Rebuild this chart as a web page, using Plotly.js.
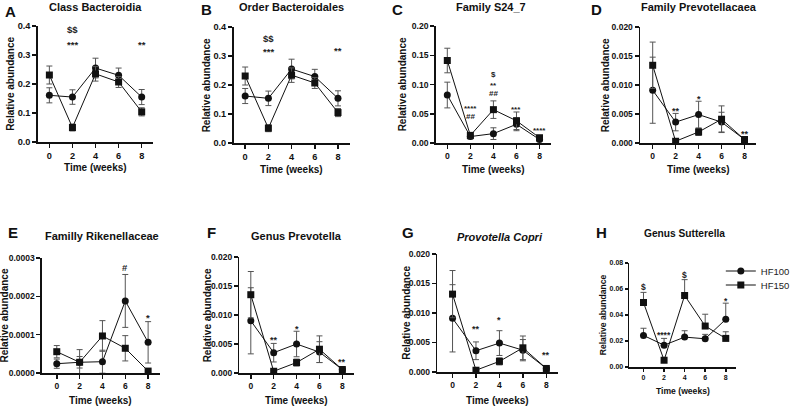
<!DOCTYPE html>
<html>
<head>
<meta charset="utf-8">
<script src="https://cdn.plot.ly/plotly-3.0.1.min.js"></script>
<style>html,body{margin:0;padding:0;background:#fff;}#chart{width:795px;height:406px;}</style>
</head>
<body>
<div id="chart"></div>
<script>
// ---------- DATA ----------
const weeks = [0, 2, 4, 6, 8];
const seriesNames = ['HF100', 'HF150'];

// A Class Bacteroidia
const aHF100 = [0.161, 0.155, 0.255, 0.230, 0.155];
const aHF100Err = [0.026, 0.025, 0.034, 0.025, 0.026];
const aHF150 = [0.231, 0.050, 0.235, 0.207, 0.104];
const aHF150Err = [0.031, 0.012, 0.025, 0.019, 0.014];
const aMarkX = [2, 2, 8];
const aMarkY = [0.389, 0.344, 0.344];
const aMarkText = ['$$', '***', '**'];

// B Order Bacteroidales
const bHF100 = [0.162, 0.154, 0.255, 0.229, 0.154];
const bHF100Err = [0.026, 0.025, 0.034, 0.025, 0.026];
const bHF150 = [0.231, 0.051, 0.234, 0.207, 0.105];
const bHF150Err = [0.031, 0.012, 0.025, 0.019, 0.014];
const bMarkX = [2, 2, 8];
const bMarkY = [0.360, 0.322, 0.326];
const bMarkText = ['$$', '***', '**'];

// C Family S24_7
const cHF100 = [0.082, 0.011, 0.016, 0.032, 0.006];
const cHF100Err = [0.022, 0.004, 0.010, 0.011, 0.003];
const cHF150 = [0.141, 0.013, 0.057, 0.038, 0.009];
const cHF150Err = [0.021, 0.005, 0.015, 0.015, 0.003];
const cMarkX = [2, 2, 4, 4, 4, 6, 8];
const cMarkY = [0.062, 0.045, 0.117, 0.101, 0.084, 0.060, 0.024];
const cMarkText = ['****', '##', '$', '**', '##', '***', '****'];

// D Family Prevotellacaea
const dHF100 = [0.0091, 0.0036, 0.0049, 0.0036, 0.0006];
const dHF100Err = [0.0057, 0.0015, 0.0023, 0.0017, 0.0002];
const dHF150 = [0.0134, 0.0003, 0.0019, 0.0041, 0.0006];
const dHF150Err = [0.0040, 0.0002, 0.0006, 0.0023, 0.0002];
const dMarkX = [2, 4, 8];
const dMarkY = [0.0059, 0.0079, 0.0019];
const dMarkText = ['**', '*', '**'];

// E Familly Rikenellaceae
const eHF100 = [0.0000243, 0.000028, 0.0000295, 0.000188, 0.00008];
const eHF100Err = [0.000012, 0.000015, 0.00003, 0.000069, 0.000054];
const eHF150 = [0.0000556, 0.000028, 0.0000966, 0.0000645, 0.000005];
const eHF150Err = [0.000016, 0.000033, 0.00004, 0.000033, 0.000003];
const eMarkX = [6, 8];
const eMarkY = [0.000274, 0.000149];
const eMarkText = ['#', '*'];

// F Genus Prevotella
const fHF100 = [0.0090, 0.0035, 0.0050, 0.0036, 0.0006];
const fHF100Err = [0.0057, 0.0016, 0.0022, 0.0018, 0.0002];
const fHF150 = [0.0135, 0.0003, 0.0018, 0.0041, 0.0006];
const fHF150Err = [0.0040, 0.0002, 0.0006, 0.0023, 0.0002];
const fMarkX = [2, 4, 8];
const fMarkY = [0.0061, 0.0080, 0.0022];
const fMarkText = ['**', '*', '**'];

// G Provotella Copri
const gHF100 = [0.0091, 0.0036, 0.0049, 0.0037, 0.0006];
const gHF100Err = [0.0057, 0.0015, 0.0021, 0.0018, 0.0002];
const gHF150 = [0.0132, 0.0003, 0.0018, 0.0041, 0.0006];
const gHF150Err = [0.0040, 0.0002, 0.0006, 0.0020, 0.0002];
const gMarkX = [2, 4, 8];
const gMarkY = [0.0076, 0.0091, 0.0033];
const gMarkText = ['**', '*', '**'];

// H Genus Sutterella (upper error bars only)
const hHF100 = [0.0243, 0.0168, 0.0230, 0.0217, 0.0367];
const hHF100Err = [0.0055, 0.0052, 0.0049, 0.0034, 0.0124];
const hHF150 = [0.0496, 0.0052, 0.0550, 0.0315, 0.0220];
const hHF150Err = [0.0078, 0.0010, 0.0122, 0.0091, 0.0051];
const hMarkX = [0, 2, 4, 8];
const hMarkY = [0.0615, 0.026, 0.071, 0.0525];
const hMarkText = ['$', '****', '$', '*'];

// ---------- LAYOUT HELPERS ----------
const W = 795, H = 406;
const FONT = 'Liberation Sans, Arial, sans-serif';
const px = v => v / W;
const py = v => 1 - v / H;

const panels = [
  {id:'A', title:'Class Bacteroidia', a:aHF100, ae:aHF100Err, b:aHF150, be:aHF150Err, mx:aMarkX, my:aMarkY, mt:aMarkText,
   x0:50, x8:143.5, lo:-1, hi:9, top:26, bot:142, ymax:0.4, dtick:0.1, fmt:'.1f',
   letter:[3,11], titleXY:[97,7], ytX:11, xtY:168, tick:9.2, axt:10, tt:11, mk:9.5, tl:4},
  {id:'B', title:'Order Bacteroidales', a:bHF100, ae:bHF100Err, b:bHF150, be:bHF150Err, mx:bMarkX, my:bMarkY, mt:bMarkText,
   x0:248.3, x8:342.3, lo:-1, hi:9, top:27, bot:143, ymax:0.4, dtick:0.1, fmt:'.1f',
   letter:[202,10], titleXY:[295,7], ytX:209, xtY:169, tick:9.2, axt:10, tt:11, mk:9.5, tl:4},
  {id:'C', title:'Family S24_7', a:cHF100, ae:cHF100Err, b:cHF150, be:cHF150Err, mx:cMarkX, my:cMarkY, mt:cMarkText,
   x0:453, x8:546.4, lo:-1, hi:9, top:26, bot:143, ymax:0.2, dtick:0.05, fmt:'.2f',
   letter:[395,10], titleXY:[497,7], ytX:408, xtY:169, tick:8.6, axt:10, tt:11, mk:8, tl:4},
  {id:'D', title:'Family Prevotellacaea', a:dHF100, ae:dHF100Err, b:dHF150, be:dHF150Err, mx:dMarkX, my:dMarkY, mt:dMarkText,
   x0:661, x8:754, lo:-1.1, hi:9, top:27, bot:143, ymax:0.02, dtick:0.005, fmt:'.3f',
   letter:[597,10], titleXY:[708,7], ytX:613, xtY:169, tick:8.5, axt:10, tt:11, mk:9, tl:4},
  {id:'E', title:'Familly Rikenellaceae', a:eHF100, ae:eHF100Err, b:eHF150, be:eHF150Err, mx:eMarkX, my:eMarkY, mt:eMarkText,
   x0:57.5, x8:150, lo:-1.3, hi:9, top:258, bot:373, ymax:0.0003, dtick:0.0001, fmt:'.4f',
   letter:[6,232], titleXY:[103,236], ytX:5, xtY:400, tick:8.5, axt:10, tt:11, mk:9.5, tl:4},
  {id:'F', title:'Genus Prevotella', a:fHF100, ae:fHF100Err, b:fHF150, be:fHF150Err, mx:fMarkX, my:fMarkY, mt:fMarkText,
   x0:254, x8:346.7, lo:-1, hi:9, top:257, bot:373, ymax:0.02, dtick:0.005, fmt:'.3f',
   letter:[208,232], titleXY:[300,236], ytX:210, xtY:400, tick:8.5, axt:10, tt:11, mk:9, tl:4},
  {id:'G', title:'<i>Provotella Copri</i>', a:gHF100, ae:gHF100Err, b:gHF150, be:gHF150Err, mx:gMarkX, my:gMarkY, mt:gMarkText,
   x0:458.3, x8:553.3, lo:-1.3, hi:9, top:254, bot:372, ymax:0.02, dtick:0.005, fmt:'.3f',
   letter:[405,232], titleXY:[506,237], ytX:411, xtY:400, tick:8.5, axt:10, tt:11, mk:9, tl:4},
  {id:'H', title:'Genus Sutterella', a:hHF100, ae:hHF100Err, b:hHF150, be:hHF150Err, mx:hMarkX, my:hMarkY, mt:hMarkText,
   x0:651.7, x8:735, lo:-1.4, hi:9, top:263, bot:367, ymax:0.08, dtick:0.02, fmt:'.2f',
   letter:[602,232], titleXY:[693,234], ytX:611, xtY:391, tick:7, axt:8.6, tt:10.2, mk:8.5, tl:3, upperOnly:true}
];

const data = [];
const layout = {
  width: W, height: H,
  margin: {l:0, r:0, t:0, b:0, pad:0},
  paper_bgcolor: '#fff', plot_bgcolor: 'rgba(0,0,0,0)',
  font: {family: FONT, color: '#111'},
  showlegend: true,
  legend: {x: px(730), y: py(271), xanchor:'left', yanchor:'middle', bgcolor:'rgba(0,0,0,0)',
           font:{family:FONT, size:9.5, color:'#222'}, itemwidth:30},
  legend2: {x: px(730), y: py(285), xanchor:'left', yanchor:'middle', bgcolor:'rgba(0,0,0,0)',
           font:{family:FONT, size:9.5, color:'#222'}, itemwidth:30},
  annotations: []
};

const boldFont = (s) => ({family: FONT, size: s, color: '#111', weight: 'bold'});

panels.forEach((p, i) => {
  const n = i + 1;
  const xa = n === 1 ? 'x' : 'x' + n;
  const ya = n === 1 ? 'y' : 'y' + n;
  const xk = n === 1 ? 'xaxis' : 'xaxis' + n;
  const yk = n === 1 ? 'yaxis' : 'yaxis' + n;
  const ppu = (p.x8 - p.x0) / 8;
  const L = p.x0 + p.lo * ppu, R = p.x0 + p.hi * ppu;

  layout[xk] = {
    domain: [px(L), px(R)], range: [p.lo, p.hi], anchor: ya,
    showline: true, linecolor: '#111', linewidth: 1.5, mirror: false,
    ticks: 'outside', ticklen: p.tl, tickwidth: 1.5, tickcolor: '#111',
    tickvals: weeks, ticktext: weeks.map(String),
    showgrid: false, zeroline: false, fixedrange: true,
    tickfont: boldFont(p.tick)
  };
  layout[yk] = {
    domain: [py(p.bot), py(p.top)], range: [0, p.ymax], anchor: xa,
    showline: true, linecolor: '#111', linewidth: 1.5, mirror: false,
    ticks: 'outside', ticklen: p.tl, tickwidth: 1.5, tickcolor: '#111',
    dtick: p.dtick, tick0: 0, tickformat: p.fmt,
    showgrid: false, zeroline: false, fixedrange: true,
    tickfont: boldFont(p.tick)
  };

  const mkErr = (arr) => p.upperOnly
    ? {type:'data', symmetric:false, array:arr, arrayminus:arr.map(() => 0), color:'#555', thickness:1, width:3}
    : {type:'data', array:arr, color:'#555', thickness:1, width:3};

  data.push({
    type:'scatter', mode:'lines+markers', x: weeks, y: p.a, xaxis: xa, yaxis: ya,
    name: seriesNames[0], showlegend: p.id === 'H', legend: 'legend',
    line:{color:'#111', width:1}, marker:{symbol:'circle', size:7, color:'#111'},
    error_y: mkErr(p.ae), cliponaxis:false
  });
  data.push({
    type:'scatter', mode:'lines+markers', x: weeks, y: p.b, xaxis: xa, yaxis: ya,
    name: seriesNames[1], showlegend: p.id === 'H', legend: 'legend2',
    line:{color:'#111', width:1}, marker:{symbol:'square', size:7, color:'#111'},
    error_y: mkErr(p.be), cliponaxis:false
  });

  // significance marks
  p.mt.forEach((t, k) => {
    const star = t.indexOf('*') >= 0;
    layout.annotations.push({
      xref: xa, yref: ya, x: p.mx[k], y: p.my[k], text: t, showarrow: false,
      xanchor:'center', yanchor:'middle', yshift: star ? -2 : 0,
      font:{family:FONT, size: p.mk, color:'#222', weight:'bold'}
    });
  });

  // panel letter
  layout.annotations.push({xref:'paper', yref:'paper', x:px(p.letter[0]), y:py(p.letter[1]), text:p.id,
    showarrow:false, xanchor:'left', yanchor:'middle', font: boldFont(15)});
  // panel title
  layout.annotations.push({xref:'paper', yref:'paper', x:px(p.titleXY[0]), y:py(p.titleXY[1]), text:p.title,
    showarrow:false, xanchor:'center', yanchor:'middle', font: boldFont(p.tt)});
  // y axis title
  layout.annotations.push({xref:'paper', yref:'paper', x:px(p.ytX), y:py((p.top + p.bot) / 2), text:'Relative abundance',
    showarrow:false, xanchor:'center', yanchor:'middle', textangle:-90, font: boldFont(p.axt)});
  // x axis title
  layout.annotations.push({xref:'paper', yref:'paper', x:px((L + R) / 2), y:py(p.xtY), text:'Time (weeks)',
    showarrow:false, xanchor:'center', yanchor:'middle', font: boldFont(p.axt)});
});

Plotly.newPlot('chart', data, layout, {staticPlot:true, displayModeBar:false});
</script>
</body>
</html>
